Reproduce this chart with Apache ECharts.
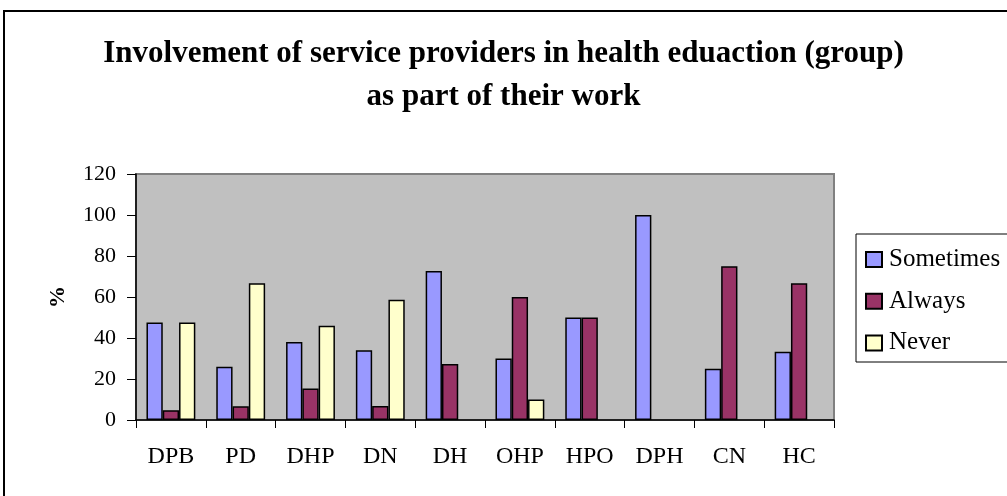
<!DOCTYPE html>
<html>
<head>
<meta charset="utf-8">
<script src="https://cdn.jsdelivr.net/npm/echarts@6/dist/echarts.min.js"></script>
<style>
html,body{margin:0;padding:0;background:#fff;}
#c{width:1007px;height:496px;}
</style>
</head>
<body>
<div id="c"></div>
<script>
var categories = ['DPB','PD','DHP','DN','DH','OHP','HPO','DPH','CN','HC'];
var sometimes = [47.6, 26.0, 38.0, 34.0, 72.7, 30.0, 50.0, 100, 25.0, 33.3];
var always = [4.8, 6.7, 15.4, 6.8, 27.3, 60.0, 50.0, null, 75.0, 66.7];
var never = [47.6, 66.7, 46.0, 58.6, null, 10.0, null, null, null, null];
var yTicks = [0, 20, 40, 60, 80, 100, 120];

var font = '"Liberation Serif", "Times New Roman", serif';
var chart = echarts.init(document.getElementById('c'));
function bar(name, data, color) {
  return {
    name: name, type: 'bar', data: data,
    barGap: '0%', barCategoryGap: '30%',
    itemStyle: { color: color, borderColor: '#000', borderWidth: 1.5 },
    emphasis: { disabled: true }
  };
}
chart.setOption({
  animation: false,
  backgroundColor: '#fff',
  graphic: [
    { type: 'rect', shape: { x: 4, y: 11, width: 1020, height: 500 }, style: { fill: 'none', stroke: '#000', lineWidth: 2 } },
    { type: 'rect', shape: { x: 856, y: 234, width: 170, height: 128 }, style: { fill: '#fff', stroke: '#000', lineWidth: 1 }, z: 0 }
  ],
  title: {
    text: 'Involvement of service providers in health eduaction (group)\nas part of their work',
    left: 'center', top: 27,
    textStyle: { fontFamily: font, fontWeight: 'bold', fontSize: 31, lineHeight: 43, color: '#000' }
  },
  legend: {
    orient: 'vertical', left: 865, top: 247, padding: 0,
    itemWidth: 16, itemHeight: 15, itemGap: 16.7, icon: 'rect',
    textStyle: { fontFamily: font, fontSize: 25, color: '#000', padding: [0, 0, 0, 2] },
    z: 5
  },
  grid: {
    left: 136, right: 173, top: 174, bottom: 76,
    show: true, backgroundColor: '#C0C0C0', borderColor: '#808080', borderWidth: 2
  },
  xAxis: {
    type: 'category', data: categories,
    axisLine: { lineStyle: { color: '#000', width: 1.5 } },
    axisTick: { show: true, length: 8, lineStyle: { color: '#000' } },
    axisLabel: { fontFamily: font, fontSize: 24, color: '#000', margin: 25 },
    splitLine: { show: false }
  },
  yAxis: {
    type: 'value', min: yTicks[0], max: yTicks[yTicks.length - 1], interval: 20,
    name: '%', nameLocation: 'middle', nameGap: 67, nameRotate: 90,
    nameTextStyle: { fontFamily: font, fontSize: 22, fontWeight: 'bold', color: '#000' },
    axisLine: { show: true, lineStyle: { color: '#000', width: 1.5 } },
    axisTick: { show: true, length: 9, lineStyle: { color: '#000' } },
    axisLabel: { fontFamily: font, fontSize: 22, color: '#000', margin: 20 },
    splitLine: { show: false }
  },
  series: [
    bar('Sometimes', sometimes, '#9999FF'),
    bar('Always', always, '#993366'),
    bar('Never', never, '#FFFFCC')
  ]
});
</script>
</body>
</html>
